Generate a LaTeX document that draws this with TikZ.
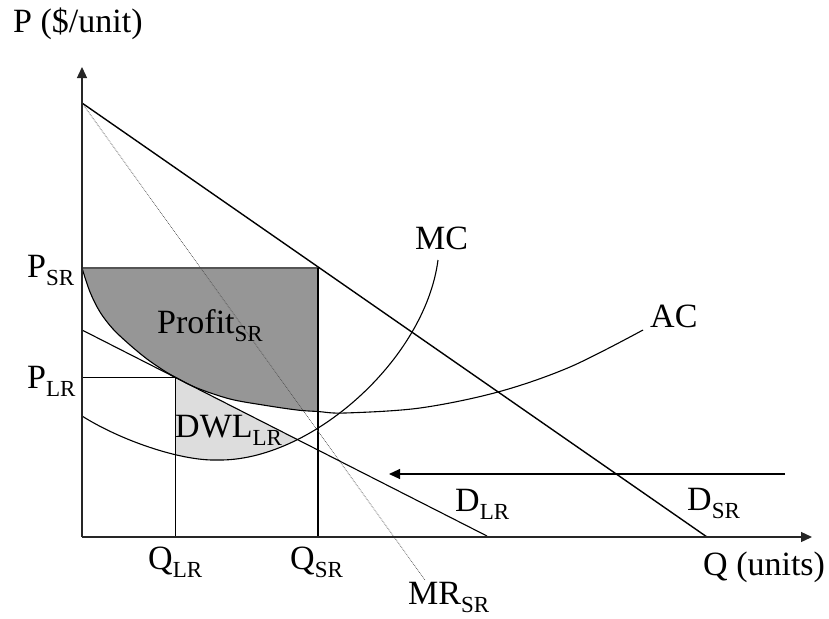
\documentclass[tikz,border=0pt]{standalone}
\usepackage{fontspec}
\setmainfont{Liberation Serif}
\usetikzlibrary{arrows.meta}
\newcommand\sbs[1]{\raisebox{-8pt}{\fontsize{23}{23}\selectfont #1}}
\definecolor{profitgray}{RGB}{150,150,150}
\definecolor{dwlgray}{RGB}{221,221,221}
\definecolor{edgegray}{RGB}{85,85,85}
\tikzset{
  lbl/.style={anchor=base west, inner sep=0pt, font=\fontsize{34}{40}\selectfont},
  curveline/.style={line width=1.1pt, black},
  mainline/.style={line width=1.4pt, black},
  axisline/.style={line width=1.3pt, black!85},
  tipA/.style={-{Triangle[length=11pt,width=10pt]}},
  mrline/.style={line width=0.7pt, densely dotted, black!70},
}
\begin{document}
\begin{tikzpicture}[x=1pt,y=-1pt]
\useasboundingbox[fill=white] (0,0) rectangle (829,618);
\def\ACpath{plot[smooth,tension=0.55] coordinates {(82,268) (90,292) (100,312) (113,329) (130,345) (147,359) (163,370) (175,377) (197,388) (230,399) (263,405) (297,410) (318,411.5) (345,413) (420,408) (498,392) (570,367) (643,330)}}
\def\MCpath{(82,416) .. controls (120,440) and (180,461) .. (217,460) .. controls (310,462) and (425,360) .. (438,260)}
% fills
\begin{scope}
  \clip \ACpath -- (643,0) -- (82,0) -- cycle;
  \fill[profitgray] (82,268) rectangle (318,430);
\end{scope}
\begin{scope}
  \clip \MCpath -- (438,0) -- (82,0) -- cycle;
  \fill[dwlgray] (175,377) -- (487,536) -- (175,536) -- cycle;
\end{scope}
% coordinates
\coordinate (O) at (82,537);
\coordinate (Ytop) at (82,67);
\coordinate (Xend) at (812,537);
\coordinate (Dtop) at (82,103);
\coordinate (Dsr) at (707,537);
\coordinate (Mrend) at (425,580);
\coordinate (Dlr0) at (82,330);
\coordinate (Dlr1) at (487,536);
\coordinate (Psr) at (82,268);
\coordinate (Esr) at (318,268);
\coordinate (Qsr) at (318,537);
\coordinate (Plr) at (82,377);
\coordinate (Elr) at (175,377);
\coordinate (Qlr) at (175,537);
\coordinate (Ar0) at (785,474);
\coordinate (Ar1) at (389,474);
% lines
\draw[line width=1.1pt, edgegray] (Psr) -- (Esr);
\draw[mainline] (Esr) -- (Qsr);
\draw[line width=1pt] (Plr) -- (Elr) -- (Qlr);
\draw[mrline] (Dtop) -- (Mrend);
\draw[curveline] \ACpath;
\draw[curveline] \MCpath;
\draw[mainline] (Dtop) -- (Dsr);
\draw[line width=1.1pt] (Dlr0) -- (Dlr1);
\draw[axisline, tipA] (O) -- (Ytop);
\draw[axisline, tipA] (O) -- (Xend);
\draw[line width=1.1pt, tipA] (Ar0) -- (Ar1);
% labels
\node[lbl] (ylab) at (13,33) {P (\$/unit)};
\node[lbl] (psr) at (27,277) {P\sbs{SR}};
\node[lbl] (plr) at (27,388) {P\sbs{LR}};
\node[lbl] (qlr) at (148,569) {Q\sbs{LR}};
\node[lbl] (qsr) at (290,569) {Q\sbs{SR}};
\node[lbl] (mrsr) at (408,604) {MR\sbs{SR}};
\node[lbl] (xlab) at (703,575) {Q (units)};
\node[lbl] (dsr) at (687,510) {D\sbs{SR}};
\node[lbl] (dlr) at (455,511) {D\sbs{LR}};
\node[lbl] (ac) at (650,327) {AC};
\node[lbl] (mc) at (415,249) {MC};
\node[lbl] (profit) at (157,333) {Profit\sbs{SR}};
\node[lbl] (dwl) at (175,437) {DWL\sbs{LR}};
\end{tikzpicture}
\end{document}
